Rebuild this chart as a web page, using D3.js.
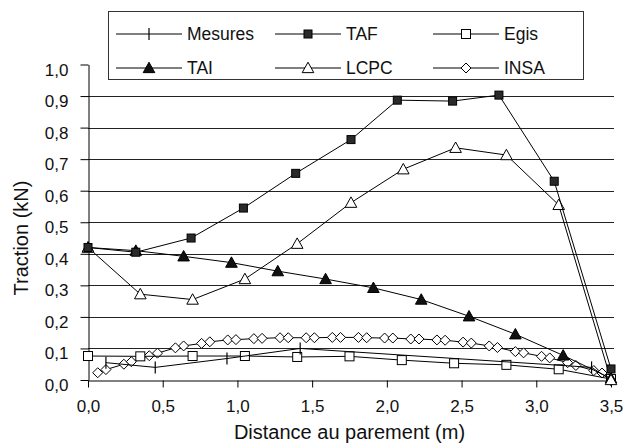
<!DOCTYPE html>
<html><head><meta charset="utf-8">
<script src="https://cdn.jsdelivr.net/npm/d3@7"></script>
<style>
body{margin:0;background:#fff;}
svg{display:block;font-family:"Liberation Sans",Arial,sans-serif;}
</style></head>
<body><svg id="c" width="625" height="443"></svg>
<script>
// ---- data ----
const xTicks = [0, 0.5, 1.0, 1.5, 2.0, 2.5, 3.0, 3.5];
const yTicks = [0, 0.1, 0.2, 0.3, 0.4, 0.5, 0.6, 0.7, 0.8, 0.9, 1.0];
const gridValues = [0.1, 0.2, 0.3, 0.4, 0.5, 0.6, 0.7, 0.8, 0.9];

const mesuresX = [0.12, 0.45, 0.93, 1.42, 3.37, 3.5];
const mesuresY = [0.055, 0.04, 0.068, 0.10, 0.04, 0.0];

const tafX = [0, 0.32, 0.69, 1.04, 1.39, 1.76, 2.07, 2.44, 2.75, 3.12, 3.5];
const tafY = [0.42, 0.405, 0.45, 0.545, 0.655, 0.762, 0.887, 0.884, 0.903, 0.63, 0.035];

const egisX = [0, 0.35, 0.70, 1.05, 1.40, 1.75, 2.10, 2.45, 2.80, 3.15, 3.5];
const egisY = [0.076, 0.075, 0.076, 0.076, 0.073, 0.075, 0.063, 0.053, 0.048, 0.034, 0.003];

const taiX = [0, 0.32, 0.64, 0.96, 1.27, 1.59, 1.91, 2.23, 2.55, 2.86, 3.18, 3.5];
const taiY = [0.42, 0.41, 0.392, 0.372, 0.345, 0.32, 0.292, 0.255, 0.202, 0.145, 0.078, 0.005];

const lcpcX = [0, 0.35, 0.70, 1.05, 1.40, 1.76, 2.11, 2.46, 2.80, 3.15, 3.5];
const lcpcY = [0.42, 0.272, 0.255, 0.32, 0.432, 0.562, 0.668, 0.736, 0.713, 0.555, 0.0];

const insaX = [0.065, 0.12, 0.24, 0.29, 0.41, 0.465, 0.585, 0.64, 0.76, 0.815, 0.935, 0.99,
  1.11, 1.165, 1.285, 1.34, 1.46, 1.515, 1.635, 1.69, 1.81, 1.865, 1.985, 2.04, 2.16, 2.215,
  2.335, 2.39, 2.51, 2.565, 2.685, 2.74, 2.86, 2.915, 3.035, 3.09, 3.21, 3.265, 3.385, 3.44];
const insaY = [0.023, 0.033, 0.05, 0.058, 0.077, 0.085, 0.102, 0.108, 0.116, 0.121, 0.127, 0.128,
  0.131, 0.132, 0.134, 0.134, 0.134, 0.134, 0.135, 0.135, 0.135, 0.134, 0.133, 0.133, 0.13, 0.13,
  0.127, 0.126, 0.12, 0.117, 0.108, 0.103, 0.09, 0.086, 0.075, 0.07, 0.055, 0.046, 0.03, 0.022];

const seriesNames = ["Mesures", "TAF", "Egis", "TAI", "LCPC", "INSA"];
const xTitle = "Distance au parement (m)";
const yTitle = "Traction (kN)";

// ---- layout ----
const svg = d3.select("#c");
const x = d3.scaleLinear().domain([0, 3.5]).range([88, 611]);
const y = d3.scaleLinear().domain([0, 1]).range([380, 64.5]);
const fmt = v => d3.format(".1f")(v).replace(".", ",");
const FS = 17;      // tick labels
const LFS = 17.5;   // legend
const TFS = 20;     // axis titles

// gridlines
svg.append("g").selectAll("line").data(gridValues).join("line")
  .attr("x1", x(0)).attr("x2", 614)
  .attr("y1", d => Math.round(y(d)) + 0.5).attr("y2", d => Math.round(y(d)) + 0.5)
  .attr("stroke", "#222").attr("stroke-width", 1);

// axes
const xAxis = svg.append("g").attr("transform", "translate(0,380.5)")
  .call(d3.axisBottom(x).tickValues(xTicks).tickFormat(fmt).tickSize(7).tickSizeOuter(0));
xAxis.selectAll("text").attr("y", 19).attr("dy", "0.71em");
const yAxis = svg.append("g").attr("transform", "translate(88.5,0)")
  .call(d3.axisLeft(y).tickValues(yTicks).tickFormat(fmt).tickSize(8).tickSizeOuter(0));
yAxis.selectAll("text").attr("x", -20).attr("dy", "0.62em");
[xAxis, yAxis].forEach(a => {
  a.select(".domain").attr("stroke", "#000");
  a.selectAll("line").attr("stroke", "#000");
  a.selectAll("text").attr("fill", "#111").style("font-size", FS + "px").style("font-family", "Liberation Sans, Arial, sans-serif");
});

svg.append("text").attr("x", x(1.75)).attr("y", 439).attr("text-anchor", "middle")
  .style("font-size", TFS + "px").attr("fill", "#111").text(xTitle);
svg.append("text").attr("transform", "translate(28,238) rotate(-90)").attr("text-anchor", "middle")
  .style("font-size", TFS + "px").attr("fill", "#111").text(yTitle);

// markers
function marker(g, type, cx, cy) {
  if (type === "Mesures") {
    g.append("line").attr("x1", cx).attr("x2", cx).attr("y1", cy - 6).attr("y2", cy + 6)
      .attr("stroke", "#000").attr("stroke-width", 1.2);
  } else if (type === "TAF") {
    g.append("rect").attr("x", cx - 4).attr("y", cy - 4).attr("width", 8).attr("height", 8)
      .attr("fill", "#2a2a2a").attr("stroke", "#000");
  } else if (type === "Egis") {
    g.append("rect").attr("x", cx - 4.5).attr("y", cy - 4.5).attr("width", 9).attr("height", 9)
      .attr("fill", "#fff").attr("stroke", "#000");
  } else if (type === "TAI" || type === "LCPC") {
    const s = 5.8;
    g.append("path").attr("d", `M${cx},${cy - s}L${cx + s},${cy + s * 0.8}L${cx - s},${cy + s * 0.8}Z`)
      .attr("fill", type === "TAI" ? "#111" : "#fff").attr("stroke", "#000");
  } else if (type === "INSA") {
    const s = 5;
    g.append("path").attr("d", `M${cx},${cy - s}L${cx + s},${cy}L${cx},${cy + s}L${cx - s},${cy}Z`)
      .attr("fill", "#fff").attr("stroke", "#000");
  }
}

const series = [
  {name: "INSA", xs: insaX, ys: insaY},
  {name: "Egis", xs: egisX, ys: egisY},
  {name: "Mesures", xs: mesuresX, ys: mesuresY},
  {name: "TAI", xs: taiX, ys: taiY},
  {name: "LCPC", xs: lcpcX, ys: lcpcY},
  {name: "TAF", xs: tafX, ys: tafY}
];
const line = d3.line().x(d => x(d[0])).y(d => y(d[1]));
series.forEach(s => {
  const pts = s.xs.map((v, i) => [v, s.ys[i]]);
  const g = svg.append("g");
  g.append("path").attr("d", line(pts)).attr("fill", "none").attr("stroke", "#000").attr("stroke-width", 1);
  pts.forEach(p => marker(g, s.name, x(p[0]), y(p[1])));
});

// legend
const lg = svg.append("g");
lg.append("rect").attr("x", 108.5).attr("y", 11.5).attr("width", 475).attr("height", 68)
  .attr("fill", "#fff").attr("stroke", "#333");
const colX = [116, 275, 433];
const rowY = [34, 68];
seriesNames.forEach((n, i) => {
  const cx = colX[i % 3], cy = rowY[Math.floor(i / 3)];
  lg.append("line").attr("x1", cx).attr("x2", cx + 66).attr("y1", cy).attr("y2", cy)
    .attr("stroke", "#000");
  marker(lg, n, cx + 33, cy);
  lg.append("text").attr("x", cx + 71).attr("y", cy).attr("dy", "0.36em")
    .style("font-size", LFS + "px").attr("fill", "#111").text(n);
});
</script></body></html>
